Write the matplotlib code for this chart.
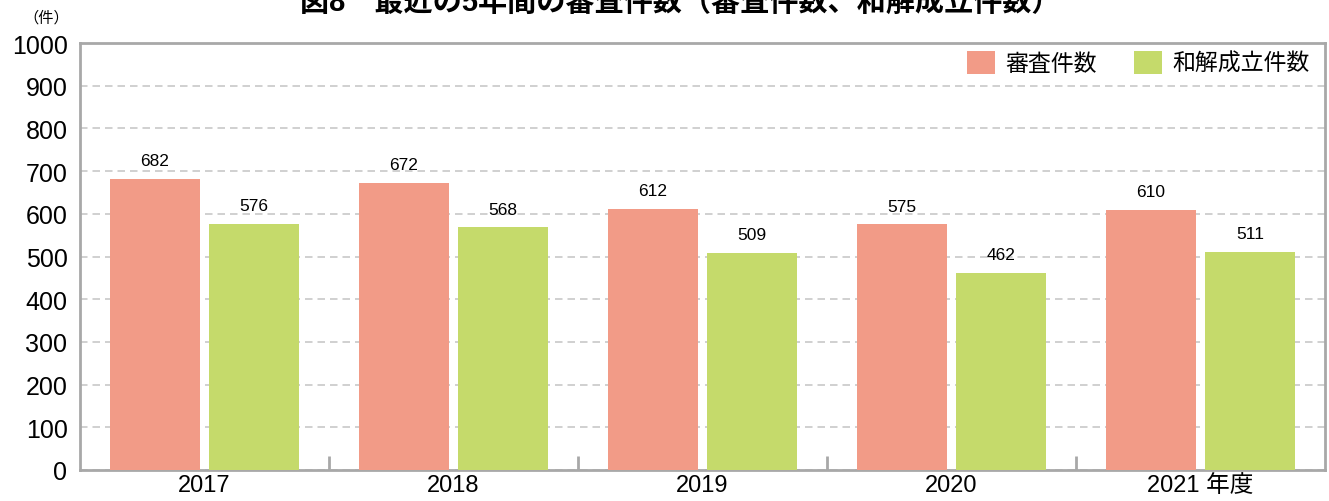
import matplotlib
matplotlib.use("Agg")
import matplotlib.pyplot as plt
import numpy as np

plt.rcParams['font.family'] = ['Liberation Sans', 'Noto Sans CJK JP', 'DejaVu Sans']

years = ['2017', '2018', '2019', '2020', '2021 年度']
review = [682, 672, 612, 575, 610]
settled = [576, 568, 509, 462, 511]
series_names = ['審査件数', '和解成立件数']
title = '図8　最近の5年間の審査件数（審査件数、和解成立件数）'

c_review = '#F29B87'
c_settled = '#C5DA6B'
gray = '#A8A8A8'

fig = plt.figure(figsize=(13.29, 5.02), dpi=100)
ax = fig.add_axes([80/1329, 1 - 471/502, (1325-80)/1329, (471-44)/502])

x = np.arange(len(years))
w = 0.36
off = 0.199
ax.bar(x - off, review, width=w, color=c_review, label=series_names[0], zorder=3)
ax.bar(x + off, settled, width=w, color=c_settled, label=series_names[1], zorder=3)

for xi, v in zip(x - off, review):
    ax.text(xi, v + 25, str(v), ha='center', va='bottom', fontsize=12.5)
for xi, v in zip(x + off, settled):
    ax.text(xi, v + 25, str(v), ha='center', va='bottom', fontsize=12.5)

ax.set_xlim(-0.5, len(years) - 0.5)
ax.set_ylim(0, 1000)
ax.set_yticks(np.arange(0, 1001, 100))
ax.tick_params(axis='y', length=0, labelsize=18, pad=9)
ax.yaxis.grid(True, linestyle=(0, (4.5, 3)), color='#C8C8C8', linewidth=1.2, zorder=0)

ax.set_xticks(x)
ax.set_xticklabels(years, fontsize=17)
ax.tick_params(axis='x', length=0, pad=3)
ax.set_xticks(np.arange(0.5, len(years) - 0.5, 1), minor=True)
ax.tick_params(axis='x', which='minor', direction='in', length=10, width=2, color=gray)

for s in ax.spines.values():
    s.set_color(gray)
    s.set_linewidth(2)

leg = ax.legend(loc='upper right', frameon=False, ncol=2, fontsize=16.5,
                handlelength=1.2, handleheight=1.15, columnspacing=1.65,
                handletextpad=0.45, bbox_to_anchor=(1.004, 1.03))

fig.text(46/1329, 1 - 18/502, '（件）', ha='center', va='center', fontsize=11)
fig.text(680/1329, 1 - 3/502, title, ha='center', va='center', fontsize=21,
         fontweight='bold')

fig.savefig('out.png', dpi=100)
